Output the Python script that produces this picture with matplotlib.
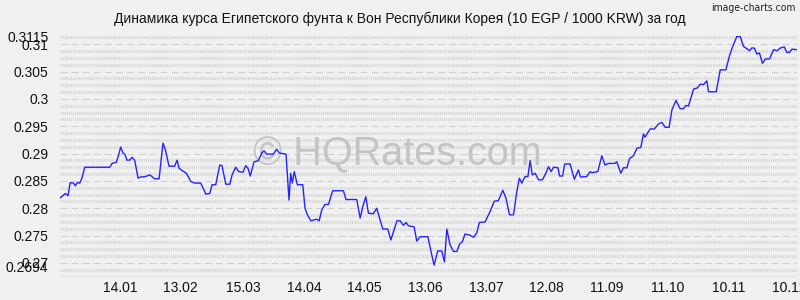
import matplotlib
matplotlib.use("Agg")
import matplotlib.pyplot as plt
import numpy as np

# ---- data (day index from start, rate) ----
days = [0, 2.9, 4.2, 5.3, 7, 7.8, 8.8, 10, 11.1, 12.5, 24.9, 26, 28.1, 29.3, 30.3, 31.4, 32.3, 33.4,
        34.8, 35.9, 37.2, 38.9, 40, 42.5, 44.7, 47.1, 49.3, 51.2, 52.4, 54.2, 57, 58.2, 59.2, 61.1,
        62.8, 65, 66.9, 69.9, 72.4, 74.4, 75.5, 77.3, 79.3, 80.4, 82.3, 84.3, 85.4, 87.2, 88.7, 90.8,
        92.2, 93.3, 94.4, 96.3, 98.4, 100.1, 101.2, 102.6, 105.8, 107.5, 108.8, 112.1, 113.6, 114.4,
        115.2, 116.2, 117.7, 120.4, 121.5, 122.7, 124.4, 127.3, 128.5, 129.8, 131.4, 133.1, 135.2,
        140.5, 141.8, 147.1, 148.8, 150.1, 151.6, 152.9, 155.3, 157, 160, 162.5, 164, 167, 168.6,
        170.2, 171.5, 172.7, 175.5, 176.8, 178.5, 182.3, 183.8, 185.4, 187.2, 189.2, 190.5, 191.7,
        193.3, 195, 196.7, 197.9, 199.4, 200.7, 202.9, 204.9, 206.5, 207.8, 210.6, 213.1, 215.2,
        217.2, 219.4, 221, 222.7, 224.7, 226.3, 227.6, 228.8, 230.4, 231.8, 232.9, 234, 235.4, 237.1,
        239, 240.7, 242, 243.3, 244.5, 246.7, 247.5, 249, 250, 252.7, 254.8, 256.8, 257.9, 260.9,
        262.6, 263.4, 266.4, 268.4, 270, 271.6, 274.9, 275.8, 277.8, 279.1, 280.8, 282.1, 284.1,
        285.8, 287.7, 289, 289.8, 292.3, 294.4, 296.4, 298.1, 299.8, 301.7, 303.1, 305.1, 307.2,
        308.8, 310, 311.3, 313.8, 315.7, 317.1, 318.7, 320.4, 321.2, 325, 327, 329.8, 331.6, 333.1,
        335.2, 336.9, 338.5, 340.5, 341.5, 342.6, 343.9, 345.1, 346.4, 347.9, 349.3, 351.4, 353.4,
        355.1, 356.7, 358.7, 360, 361.3, 362.5, 365]
rates = [0.2818, 0.2827, 0.2823, 0.2847, 0.2846, 0.2841, 0.2847, 0.2846, 0.2855, 0.2875, 0.2875,
         0.2882, 0.2884, 0.2898, 0.2912, 0.2901, 0.2899, 0.2888, 0.2888, 0.2893, 0.2888, 0.2855,
         0.2857, 0.2858, 0.2861, 0.2854, 0.2854, 0.2919, 0.2907, 0.2877, 0.2877, 0.2888, 0.2873,
         0.2868, 0.2864, 0.2849, 0.2846, 0.2846, 0.2826, 0.2827, 0.2843, 0.2843, 0.2879, 0.2878,
         0.2844, 0.2844, 0.2861, 0.2875, 0.2867, 0.2866, 0.2878, 0.2873, 0.2859, 0.2885, 0.2887,
         0.2901, 0.2905, 0.2899, 0.2899, 0.2908, 0.2901, 0.2899, 0.2815, 0.2864, 0.2846, 0.2867,
         0.2843, 0.2843, 0.2800, 0.2788, 0.2777, 0.2780, 0.2777, 0.2797, 0.2807, 0.2807, 0.2832,
         0.2832, 0.2816, 0.2816, 0.2782, 0.2803, 0.2821, 0.2791, 0.2790, 0.2800, 0.2762, 0.2762,
         0.2742, 0.2777, 0.2777, 0.2769, 0.2774, 0.2768, 0.2766, 0.2740, 0.2748, 0.2748, 0.2722,
         0.2696, 0.2722, 0.2722, 0.2702, 0.2762, 0.2733, 0.2721, 0.2721, 0.2734, 0.2739, 0.2753,
         0.2751, 0.2747, 0.2755, 0.2774, 0.2775, 0.2794, 0.2813, 0.2814, 0.2833, 0.2818, 0.2788,
         0.2788, 0.2830, 0.2855, 0.2846, 0.2858, 0.2858, 0.2887, 0.2861, 0.2864, 0.2852, 0.2852,
         0.2864, 0.2876, 0.2867, 0.2875, 0.2874, 0.2859, 0.2859, 0.2881, 0.2881, 0.2853, 0.2870,
         0.2857, 0.2858, 0.2867, 0.2865, 0.2867, 0.2896, 0.2879, 0.2882, 0.2882, 0.2885, 0.2864,
         0.2874, 0.2874, 0.2891, 0.2896, 0.2910, 0.2911, 0.2936, 0.2930, 0.2945, 0.2945, 0.2954,
         0.2957, 0.2948, 0.2948, 0.2980, 0.2997, 0.2982, 0.2982, 0.2988, 0.2987, 0.3018, 0.3020,
         0.3027, 0.3026, 0.3033, 0.3013, 0.3013, 0.3053, 0.3053, 0.3079, 0.3095, 0.3114, 0.3114,
         0.3096, 0.3091, 0.3088, 0.3093, 0.3093, 0.3082, 0.3084, 0.3065, 0.3073, 0.3073, 0.3090,
         0.3088, 0.3093, 0.3095, 0.3085, 0.3085, 0.3091, 0.3090]

xtick_days = [30, 60, 91, 121, 151, 181, 211, 241, 271, 301, 331, 361]
xtick_labels = ["14.01", "13.02", "15.03", "14.04", "14.05", "13.06", "13.07", "12.08",
                "11.09", "11.10", "10.11", "10.12"]
ytick_values = [0.2694, 0.27, 0.275, 0.28, 0.285, 0.29, 0.295, 0.3, 0.305, 0.31, 0.3115]
ytick_labels = ["0.2694", "0.27", "0.275", "0.28", "0.285", "0.29", "0.295", "0.3", "0.305",
                "0.31", "0.3115"]

title = "Динамика курса Египетского фунта к Вон Республики Корея (10 EGP / 1000 KRW) за год"

plt.rcParams['font.family'] = ['Liberation Sans', 'DejaVu Sans']
plt.rcParams['lines.scale_dashes'] = False

BG = "#f0f0f0"
fig = plt.figure(figsize=(8, 3), dpi=100, facecolor=BG)
ax = fig.add_axes([59.5 / 800, 1 - 277 / 300, (797 - 59.5) / 800, (277 - 36) / 300])
ax.set_facecolor(BG)
ax.set_xlim(0, 365)
ax.set_ylim(0.26743, 0.3115)

# grid: minor textured rows and major dashed rows
for yv in np.arange(0.2675, 0.3116, 0.00125):
    if abs(round(yv / 0.005) * 0.005 - yv) < 1e-6:
        continue
    ax.axhline(yv, color="#d6d6d6", lw=2.2, linestyle=(0, (0.8, 0.7)), zorder=1)
for yv in np.arange(0.27, 0.3116, 0.005):
    ax.axhline(yv, color="#cfcfcf", lw=0.8, linestyle=(0, (5, 3)), zorder=1)

# watermark
ax.text(0.458, 0.51, "© HQRates.com", transform=ax.transAxes, ha="center", va="center",
        fontsize=28.5, color="#c4c4c4", zorder=2)

ax.plot(days, rates, color="#2424ff", lw=1.0, zorder=3)

for s in ax.spines.values():
    s.set_visible(False)
ax.set_xticks(xtick_days)
ax.set_xticklabels(xtick_labels)
ax.set_yticks(ytick_values)
ax.set_yticklabels(ytick_labels)
ax.tick_params(axis="both", length=0, labelsize=10, colors="#111111")
ax.tick_params(axis="x", pad=3)
ax.tick_params(axis="y", pad=8)

fig.text(0.5, 1 - 19 / 300, title, ha="center", va="center", fontsize=10, color="#111111")
fig.text(0.994, 1 - 8 / 300, "image-charts.com", ha="right", va="center", fontsize=7.5,
         color="#222222", family=["Liberation Sans Narrow", "DejaVu Sans"], stretch="condensed")

fig.savefig("out.png", dpi=100, facecolor=BG)
